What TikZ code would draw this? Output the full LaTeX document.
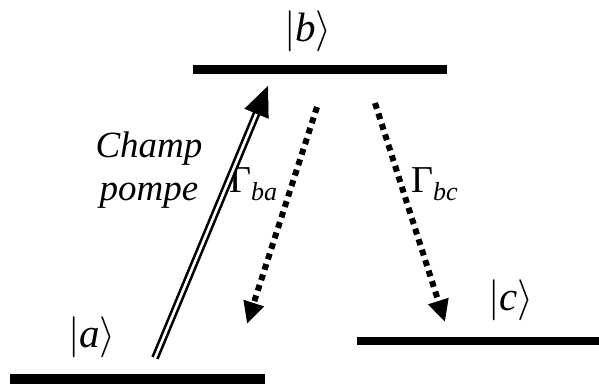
\RequirePackage{fix-cm}
\documentclass[tikz,border=0pt]{standalone}
\usepackage{fontspec}
\setmainfont{Liberation Serif}[ItalicFont={Liberation Serif Italic}]
\usetikzlibrary{arrows.meta}
\tikzset{
  level/.style={line width=9pt},
  lab/.style={font=\fontsize{37}{43}\selectfont, inner sep=0pt},
  ketlab/.style={font=\fontsize{41}{44}\selectfont, inner sep=0pt},
  decay/.style={line width=6pt, dash pattern=on 6pt off 5pt, -{Triangle[length=22pt,width=20pt]}},
  pumpline/.style={double, line width=2.6pt, double distance=2.6pt},
  pumptip/.style={line width=0.5pt, -{Triangle[length=30pt,width=26pt]}}
}
\newcommand{\ket}[1]{$|$\textit{#1}$\rangle$}
\begin{document}
\begin{tikzpicture}[x=1pt,y=-1pt]
\useasboundingbox (0,0) rectangle (599,383);
% levels
\coordinate (bL) at (193,69.5); \coordinate (bR) at (447,69.5);
\coordinate (aL) at (10,378.5); \coordinate (aR) at (265,378.5);
\coordinate (cL) at (357,341); \coordinate (cR) at (599,341);
\draw[level] (bL) -- (bR);
\draw[level, line width=10pt] (aL) -- (aR);
\draw[level, line width=8pt] (cL) -- (cR);
% labels
\node[ketlab] (kb) at (308,31) {\ket{b}};
\node[ketlab] (ka) at (92,337) {\ket{a}};
\node[ketlab] (kc) at (511,300) {\ket{c}};
\node[lab, align=center] (champ) at (149,170) {\textit{Champ}\\\textit{pompe}};
\node[lab, anchor=base west, font=\fontsize{38}{43}\selectfont] (gba) at (229,192) {Γ\raisebox{-8pt}{\fontsize{26}{28}\selectfont\textit{ba}}};
\node[lab, anchor=base west, font=\fontsize{38}{43}\selectfont] (gbc) at (411,192) {Γ\raisebox{-8pt}{\fontsize{26}{28}\selectfont\textit{bc}}};
% pump arrow
\coordinate (p0) at (155,358);
\coordinate (p1) at (268,86);
\path (p0) -- (p1) coordinate[pos=0.93] (pm);
\draw[pumpline] (p0) -- (pm);
\draw[pumptip] (pm) -- (p1);
% decay arrows
\coordinate (d1s) at (317,107); \coordinate (d1e) at (247,324);
\coordinate (d2s) at (375,103); \coordinate (d2e) at (445,322);
\draw[decay] (d1s) -- (d1e);
\draw[decay] (d2s) -- (d2e);
\end{tikzpicture}
\end{document}
